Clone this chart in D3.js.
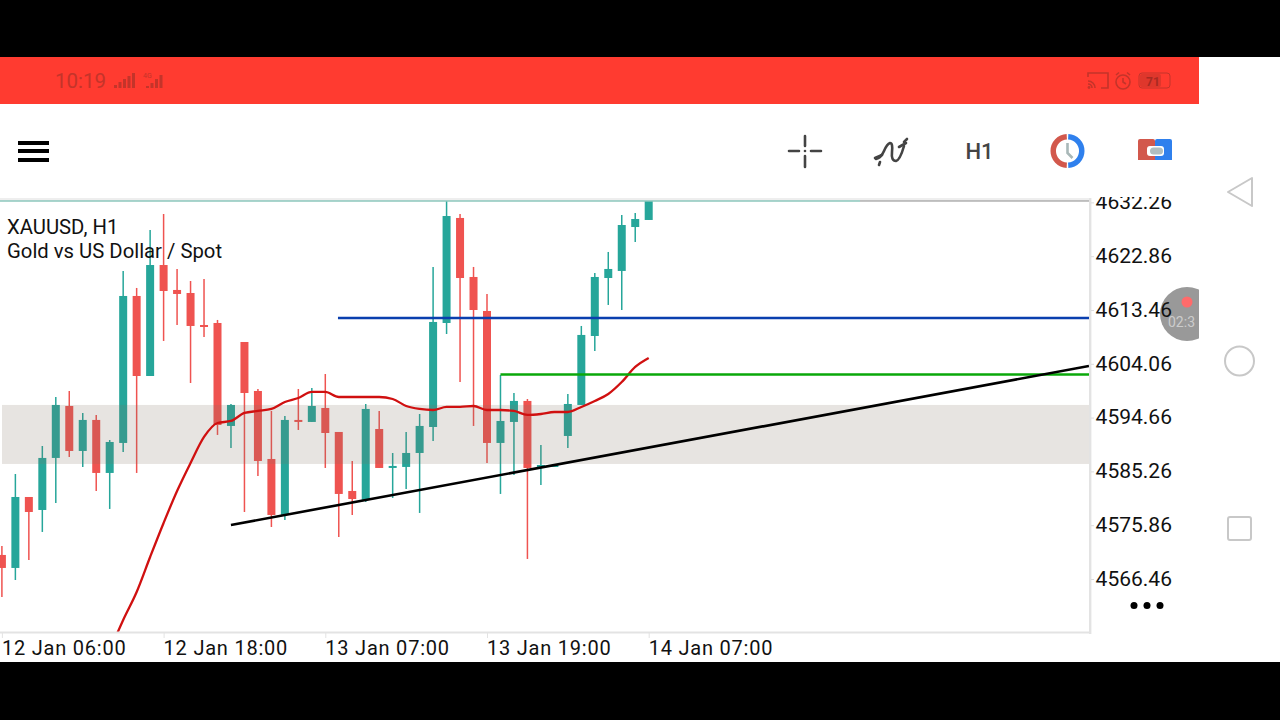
<!DOCTYPE html>
<html><head><meta charset="utf-8">
<script src="https://cdn.jsdelivr.net/npm/d3@7/dist/d3.min.js"></script>
<style>html,body{margin:0;padding:0;background:#000;overflow:hidden}svg{display:block}text{font-family:Roboto,sans-serif}</style>
</head><body><svg id="c" width="1280" height="720"></svg>
<script>
const opens=[4570.66,4568.39,4580.79,4578.52,4587.61,4596.69,4588.83,4594.25,4584.99,4590.23,4615.91,4601.93,4621.32,4616.96,4616.43,4610.84,4611.19,4593.20,4607.87,4599.31,4587.43,4577.65,4594.25,4593.90,4596.34,4592.15,4581.84,4580.27,4592.67,4586.04,4586.04,4588.48,4593.02,4611.19,4629.54,4619.23,4613.29,4590.23,4593.90,4597.57,4586.04,4586.30,4591.45,4596.87,4608.92,4619.05,4620.28,4627.96,4629.19];
const highs=[4572.23,4584.81,4580.79,4589.70,4598.26,4599.31,4595.47,4595.12,4590.75,4620.28,4617.31,4627.44,4630.23,4620.63,4618.53,4618.88,4611.72,4597.04,4607.87,4599.66,4595.82,4594.94,4599.66,4599.84,4602.28,4592.15,4587.08,4597.04,4595.82,4588.48,4592.15,4595.29,4620.98,4633.03,4630.23,4620.98,4616.26,4602.11,4598.96,4597.91,4589.88,4586.38,4598.79,4610.67,4619.93,4623.60,4630.06,4630.41,4633.20];
const lows=[4563.32,4566.29,4569.79,4574.68,4579.75,4587.78,4586.04,4581.84,4578.70,4588.66,4584.99,4601.93,4608.05,4610.84,4600.71,4608.75,4591.63,4589.35,4578.17,4584.46,4575.55,4576.78,4592.50,4593.90,4585.86,4573.81,4577.65,4579.92,4585.86,4580.62,4582.19,4578.00,4590.58,4609.27,4600.88,4593.20,4586.73,4581.32,4584.64,4569.96,4582.89,4586.10,4589.35,4596.87,4606.30,4614.34,4613.46,4625.34,4629.19];
const closes=[4568.39,4580.79,4578.17,4587.61,4596.87,4588.83,4594.25,4584.99,4590.40,4615.91,4601.93,4621.32,4616.78,4616.26,4610.67,4610.67,4593.37,4596.87,4598.96,4587.08,4577.65,4594.25,4593.90,4596.69,4591.97,4581.32,4580.44,4596.17,4585.86,4586.21,4588.48,4593.20,4611.37,4629.88,4619.05,4613.46,4590.23,4594.07,4597.57,4585.86,4586.38,4586.38,4597.04,4609.10,4619.23,4620.63,4628.31,4629.36,4633.20];
const maStart=8;
const maValues=[4553.89,4559.31,4564.20,4570.31,4576.25,4581.84,4586.73,4591.28,4593.72,4594.07,4595.47,4595.82,4596.17,4597.39,4598.09,4599.14,4599.14,4598.26,4598.26,4598.26,4598.26,4597.91,4596.69,4596.17,4595.99,4596.52,4596.52,4596.69,4595.99,4595.99,4595.82,4595.12,4595.29,4595.64,4595.64,4596.52,4597.57,4598.79,4600.88,4603.51,4605.08];
const priceTicks=[4632.26,4622.86,4613.46,4604.06,4594.66,4585.26,4575.86,4566.46];
const timeTicks=[0,12,24,36,48];
const timeLabels=["12 Jan 06:00","12 Jan 18:00","13 Jan 07:00","13 Jan 19:00","14 Jan 07:00"];
const bandPrices=[4596.87,4586.56];
const bluePrice=4612.07, blueStart=24.94;
const greenPrice=4602.19, greenStart=37;
const trendIdx=[17,80.67], trendPrice=[4575.90,4603.68];
const titleLines=["XAUUSD, H1","Gold vs US Dollar / Spot"];

const svg=d3.select("#c");
const x=d3.scaleLinear().domain([0,48]).range([1.9,648.7]);
const y=d3.scaleLinear().domain([4566.46,4632.26]).range([579,202.4]);
const R=1089,T=201,B=632;
const UP="#26a69a",DN="#ef5350";

// frame
svg.append("rect").attr("x",0).attr("y",57).attr("width",1280).attr("height",605).attr("fill","#fff");
svg.append("rect").attr("x",0).attr("y",57).attr("width",1199).attr("height",47).attr("fill","#ff3b30");

// status bar
const dk="#c4342a";
svg.append("text").attr("x",55).attr("y",88).attr("font-size",20.5).attr("fill",dk).text("10:19");
const st=svg.append("g").attr("fill",dk);
[[114,3],[118.5,6],[123,9],[127.5,12],[132,15]].forEach(d=>st.append("rect").attr("x",d[0]).attr("y",88-d[1]).attr("width",3).attr("height",d[1]));
[[146,2],[150.5,5],[155,9],[159.5,13]].forEach(d=>st.append("rect").attr("x",d[0]).attr("y",88-d[1]).attr("width",3).attr("height",d[1]));
st.append("text").attr("x",143).attr("y",78).attr("font-size",7).text("4G");
const cast=svg.append("g").attr("fill","none").attr("stroke",dk).attr("stroke-width",1.6);
cast.append("path").attr("d","M1088 77v-4h20v15h-7M1088 81a7 7 0 0 1 7 7M1088 84a4 4 0 0 1 4 4");
svg.append("circle").attr("cx",1089).attr("cy",87.5).attr("r",1.4).attr("fill",dk);
cast.append("circle").attr("cx",1123).attr("cy",82).attr("r",7);
cast.append("path").attr("d","M1123 78v4l3 2M1116 75l3-2.5M1130 75l-3-2.5");
svg.append("rect").attr("x",1139).attr("y",73).attr("width",31).attr("height",15).attr("rx",3).attr("fill","none").attr("stroke",dk);
svg.append("rect").attr("x",1140).attr("y",74).attr("width",21).attr("height",13).attr("rx",2).attr("fill",dk).attr("opacity",.55);
svg.append("text").attr("x",1153).attr("y",86).attr("text-anchor","middle").attr("font-size",12).attr("font-weight",700).attr("fill","#a82a22").text("71");

// toolbar
[143,151,160].forEach(v=>svg.append("rect").attr("x",18).attr("y",v-2).attr("width",31).attr("height",4).attr("fill","#000"));
const ic=svg.append("g").attr("stroke","#444").attr("stroke-width",2.6).attr("fill","none").attr("stroke-linecap","round");
ic.append("path").attr("d","M789 151h10M811 151h10M805 136v10M805 156v11");
svg.append("circle").attr("cx",805).attr("cy",151).attr("r",1.3).attr("fill","#444");
ic.append("path").attr("d","M876 159q5-1 8-8t6-8q3 0 2 9t4 9q4-1 8-15");
ic.append("path").attr("d","M875 158l7-3M899 147l7-4M904 142l3-3M879 165l1-3");
svg.append("text").attr("x",979.5).attr("y",159).attr("text-anchor","middle").attr("font-size",22).attr("font-weight",500).attr("fill","#444").text("H1");
const arc=d3.arc().innerRadius(11.5).outerRadius(17);
svg.append("path").attr("transform","translate(1067.5,151)").attr("fill","#d2584c").attr("d",arc({startAngle:-Math.PI+.05,endAngle:-.05}));
svg.append("path").attr("transform","translate(1067.5,151)").attr("fill","#2f80ed").attr("d",arc({startAngle:.05,endAngle:Math.PI-.05}));
svg.append("path").attr("d","M1067.5 143v10l5 5").attr("stroke","#a9b8b8").attr("stroke-width",2.6).attr("fill","none");
svg.append("rect").attr("x",1138).attr("y",139).attr("width",17).attr("height",24).attr("rx",2).attr("fill","#d2584c");
svg.append("rect").attr("x",1155).attr("y",139).attr("width",17).attr("height",24).attr("rx",2).attr("fill","#2f80ed");
svg.append("rect").attr("x",1147).attr("y",146).attr("width",17).attr("height",10).attr("rx",3).attr("fill","#fff");
svg.append("rect").attr("x",1150).attr("y",147.5).attr("width",13).attr("height",7).attr("rx",3.5).attr("fill","#b0bec0");

// recording bubble
svg.append("defs").append("clipPath").attr("id","bub").append("rect").attr("x",1150).attr("y",280).attr("width",49).attr("height",70);
const bub=svg.append("g").attr("clip-path","url(#bub)");
bub.append("circle").attr("cx",1187).attr("cy",314).attr("r",27).attr("fill","#999");
bub.append("circle").attr("cx",1187).attr("cy",302).attr("r",5.5).attr("fill","#ff6b6b");
bub.append("text").attr("x",1168).attr("y",327).attr("font-size",14).attr("fill","#ccc").text("02:3");

// plot
svg.select("defs").append("clipPath").attr("id","plot").append("rect").attr("x",0).attr("y",T).attr("width",R).attr("height",B-T);
const plot=svg.append("g").attr("clip-path","url(#plot)");
const idx=d3.range(opens.length);
const col=i=>closes[i]>=opens[i]&&!(i===15||i===22)?UP:DN;
plot.append("g").selectAll("line").data(idx).join("line")
 .attr("x1",i=>x(i)).attr("x2",i=>x(i)).attr("y1",i=>y(highs[i])).attr("y2",i=>y(lows[i]))
 .attr("stroke",col).attr("stroke-width",1.5);
plot.append("g").selectAll("rect").data(idx).join("rect")
 .attr("x",i=>x(i)-4).attr("width",8)
 .attr("y",i=>y(Math.max(opens[i],closes[i])))
 .attr("height",i=>Math.max(2,Math.abs(y(opens[i])-y(closes[i]))))
 .attr("fill",col);
// zone overlay
plot.append("rect").attr("x",2).attr("width",R-2).attr("y",y(bandPrices[0])).attr("height",y(bandPrices[1])-y(bandPrices[0])).attr("fill","rgb(125,110,95)").attr("opacity",.19);
// MA
const ma=d3.line().x((d,i)=>x(i+maStart)).y(d=>y(d)).curve(d3.curveMonotoneX);
plot.append("path").attr("d",ma(maValues)).attr("fill","none").attr("stroke","#d01010").attr("stroke-width",2.3);
// levels
plot.append("line").attr("x1",x(blueStart)).attr("x2",R).attr("y1",y(bluePrice)).attr("y2",y(bluePrice)).attr("stroke","#0a3fae").attr("stroke-width",2.4);
plot.append("line").attr("x1",x(greenStart)).attr("x2",R).attr("y1",y(greenPrice)).attr("y2",y(greenPrice)).attr("stroke","#0aa80a").attr("stroke-width",2.6);
plot.append("line").attr("x1",x(trendIdx[0])).attr("x2",x(trendIdx[1])).attr("y1",y(trendPrice[0])).attr("y2",y(trendPrice[1])).attr("stroke","#000").attr("stroke-width",2.6);

// borders
svg.append("rect").attr("x",0).attr("y",198).attr("width",R+2).attr("height",3).attr("fill","#eee");
svg.append("line").attr("x1",0).attr("x2",860).attr("y1",201).attr("y2",201).attr("stroke","#8cc7bd").attr("stroke-width",1.4);
svg.append("line").attr("x1",860).attr("x2",R).attr("y1",201).attr("y2",201).attr("stroke","#8c8c8c").attr("stroke-width",1.2);
svg.append("rect").attr("x",1089).attr("y",198).attr("width",2.4).attr("height",436).attr("fill","#e3e3e3");
svg.append("rect").attr("x",0).attr("y",631.5).attr("width",1091).attr("height",2).attr("fill","#e3e3e3");

// axes
const yAxis=svg.append("g").attr("transform",`translate(${R+2},0)`)
 .call(d3.axisRight(y).tickValues(priceTicks).tickFormat(d3.format(".2f")).tickSize(3).tickPadding(1.6));
yAxis.select(".domain").remove();
yAxis.selectAll("line").attr("stroke","#ddd");
yAxis.selectAll("text").attr("font-size",21).attr("fill","#111").attr("font-family","Roboto,sans-serif").attr("dy","0.3em");
svg.append("rect").attr("x",1092).attr("y",160).attr("width",100).attr("height",37).attr("fill","#fff");

const xAxis=svg.append("g").attr("transform",`translate(0,${B})`)
 .call(d3.axisBottom(x).tickValues(timeTicks).tickFormat((d,i)=>timeLabels[i]).tickSize(6).tickPadding(3));
xAxis.select(".domain").remove();
xAxis.selectAll("line").attr("stroke","#e3e3e3");
xAxis.selectAll("text").attr("text-anchor","start").attr("font-size",20).attr("letter-spacing","0.78px").attr("fill","#111").attr("font-family","Roboto,sans-serif").attr("dx","-0.5");

// title
titleLines.forEach((t,i)=>svg.append("text").attr("x",7).attr("y",233.5+i*24).attr("font-size",20.3).attr("fill","#111").text(t));

// dots
[1134,1147,1160].forEach(v=>svg.append("circle").attr("cx",v).attr("cy",605.5).attr("r",3.5).attr("fill","#000"));

// nav
const nav=svg.append("g").attr("fill","none").attr("stroke","#c8c8c8").attr("stroke-width",2);
nav.append("path").attr("d","M1252 178L1228 192L1252 206Z").attr("stroke-linejoin","round");
nav.append("circle").attr("cx",1239.5).attr("cy",361).attr("r",14.5);
nav.append("rect").attr("x",1228).attr("y",517).attr("width",23).attr("height",23).attr("rx",2);
</script></body></html>
